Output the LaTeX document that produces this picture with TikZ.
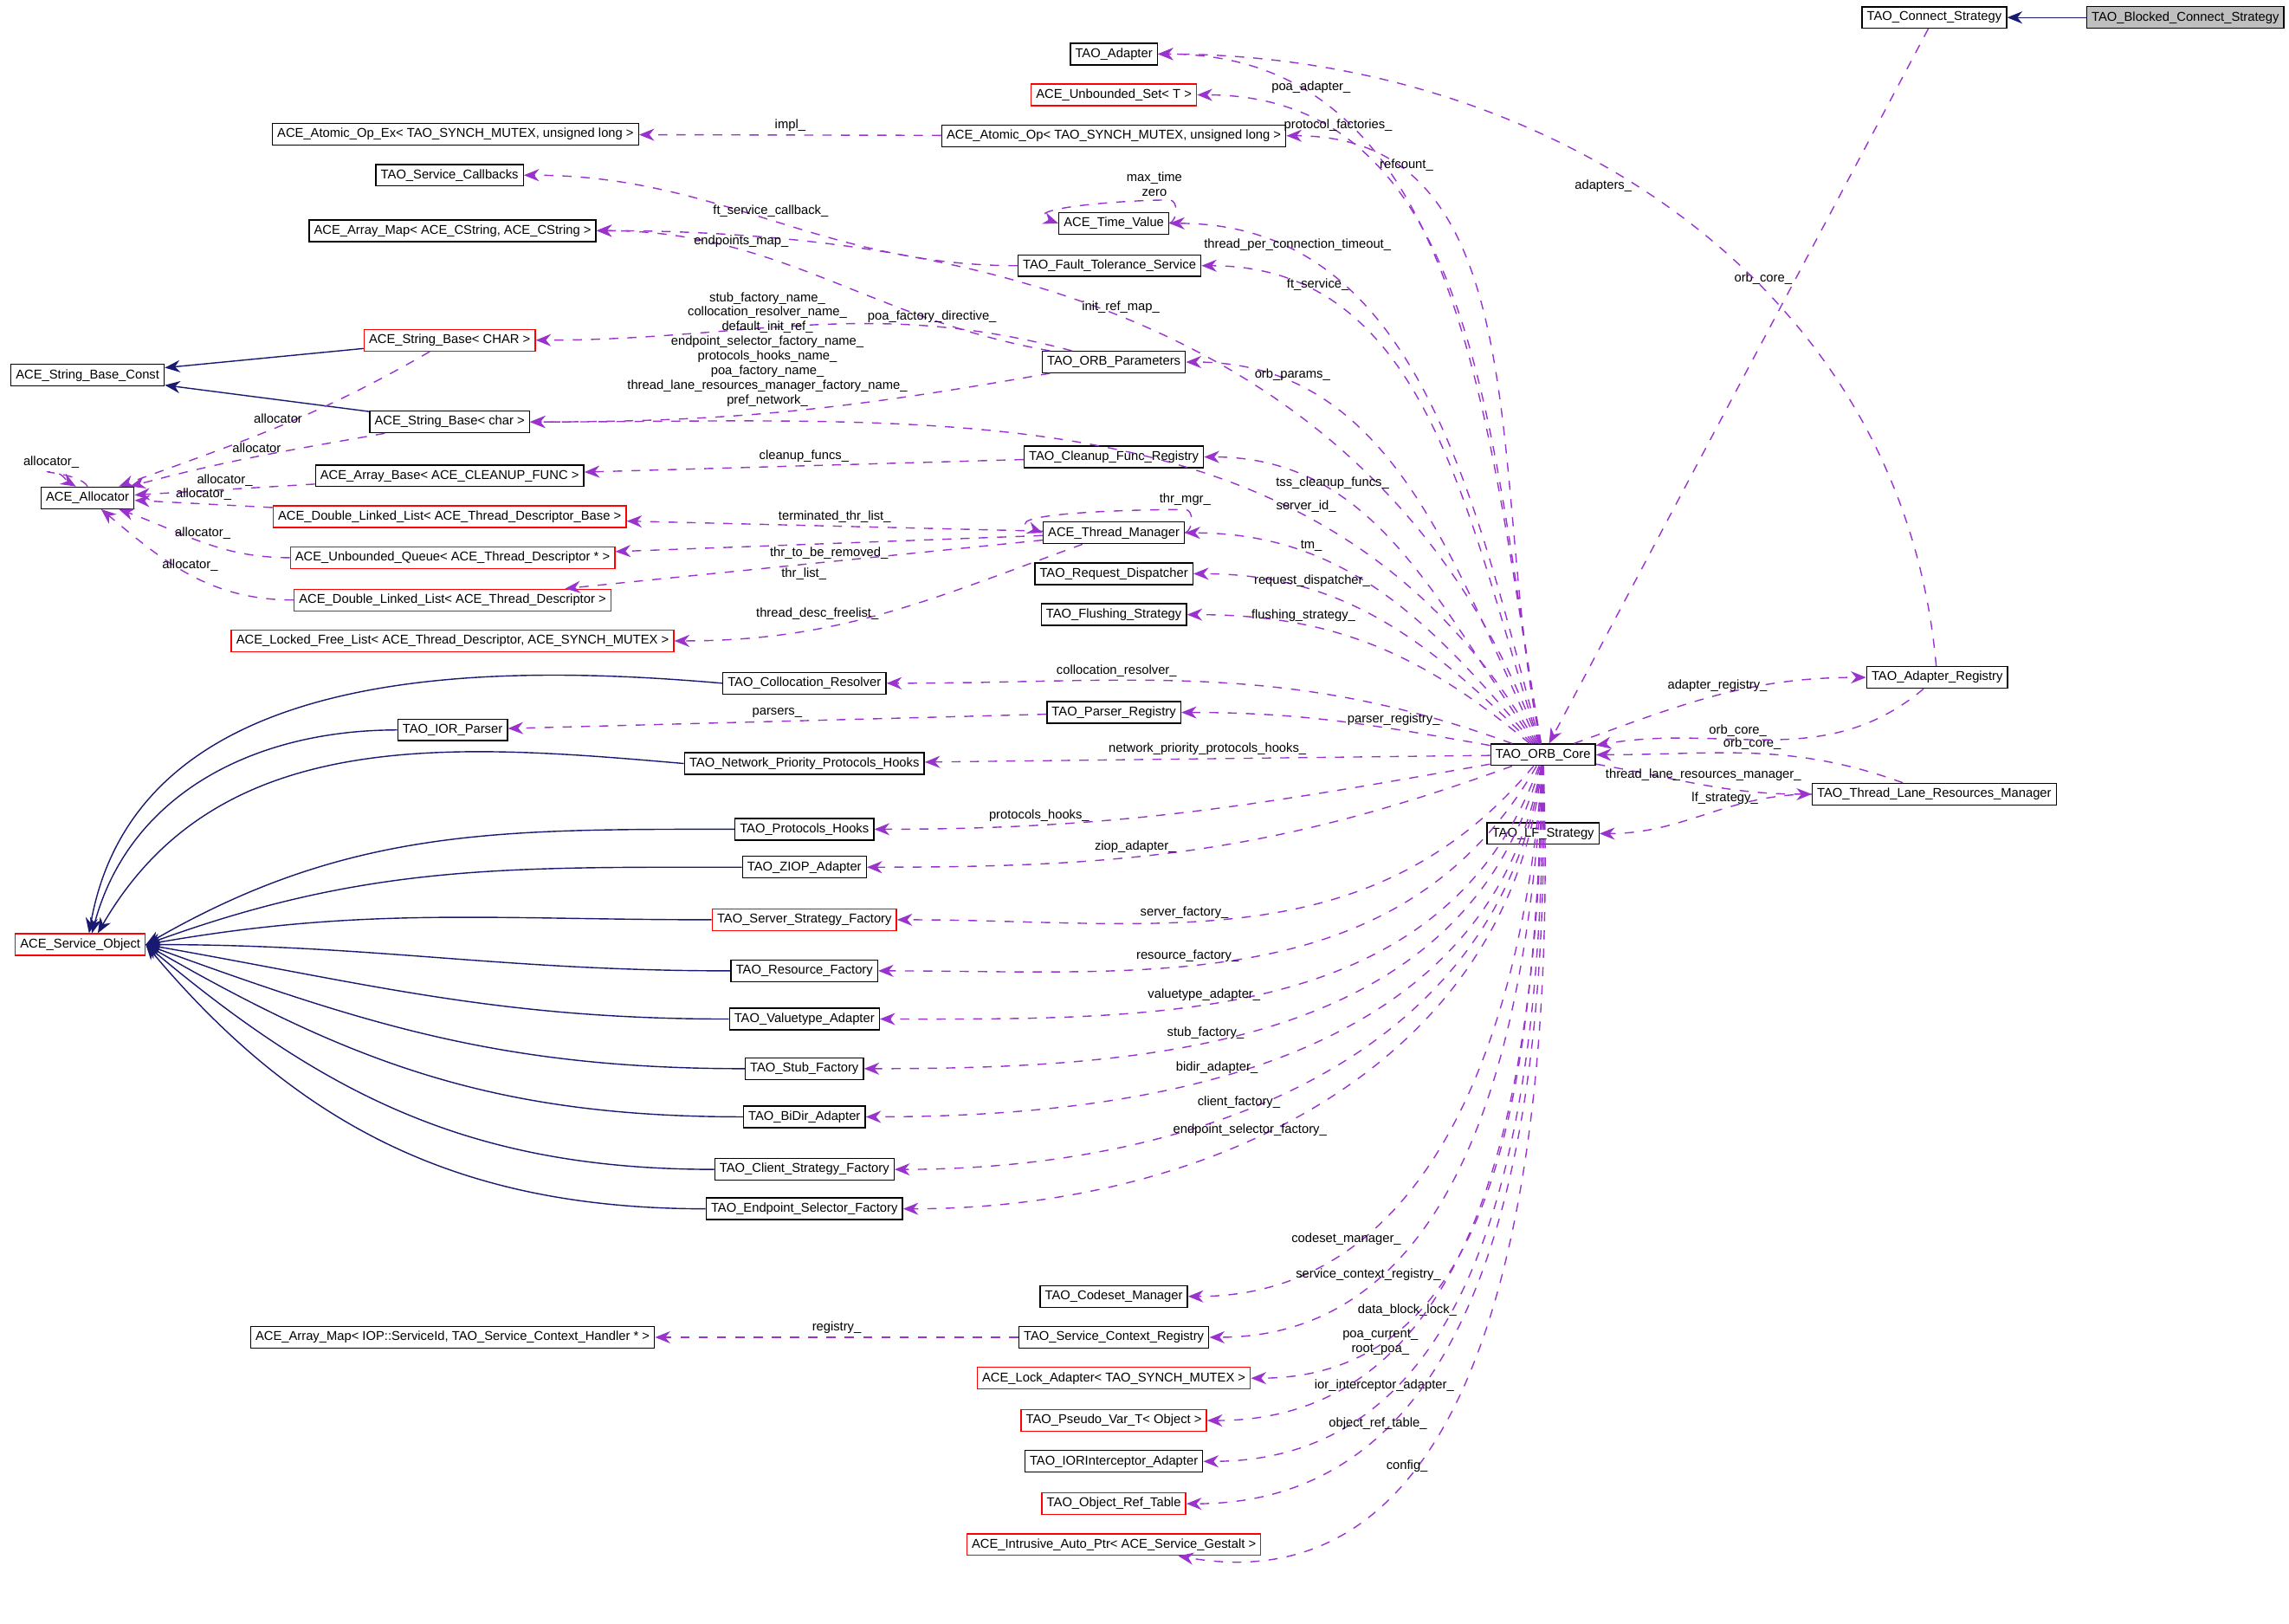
\documentclass[tikz,border=0pt]{standalone}
\usepackage{fontspec}
\setmainfont{Liberation Sans}
\usetikzlibrary{arrows.meta, positioning, calc}
\usepackage{xcolor}
\definecolor{inh}{HTML}{191970}
\definecolor{mem}{HTML}{9A32CD}

\tikzset{
  cls/.style={draw, rectangle, inner sep=1.6pt, minimum height=7pt, font=\fontsize{4.2}{5}\selectfont},
  redcls/.style={cls, draw=red},
  isa/.style={draw=inh, -{Stealth[length=5pt,width=4pt]}},
  uses/.style={draw=mem, dashed, -{Stealth[length=5pt,width=4pt]}},
  lbl/.style={font=\fontsize{4.2}{4.8}\selectfont, inner sep=1pt, align=center}
}

\begin{document}
\begin{tikzpicture}[x=0.01686cm, y=-0.01686cm]
  \useasboundingbox (0,0) rectangle (1568,1112);

  % classes
  \node[cls, fill=black!25] (blocked) at (1497,12) {TAO\_Blocked\_Connect\_Strategy};
  \node[cls] (connect) at (1325,12) {TAO\_Connect\_Strategy};
  \node[cls] (adapter) at (763,37) {TAO\_Adapter};
  \node[redcls] (uset) at (763,65) {ACE\_Unbounded\_Set< T >};
  \node[cls] (atomicex) at (312,92) {ACE\_Atomic\_Op\_Ex< TAO\_SYNCH\_MUTEX, unsigned long >};
  \node[cls] (atomic) at (763,93) {ACE\_Atomic\_Op< TAO\_SYNCH\_MUTEX, unsigned long >};
  \node[cls] (callbacks) at (308,120) {TAO\_Service\_Callbacks};
  \node[cls] (timeval) at (763,153) {ACE\_Time\_Value};
  \node[cls] (amap) at (310,158) {ACE\_Array\_Map< ACE\_CString, ACE\_CString >};
  \node[cls] (ft) at (760,182) {TAO\_Fault\_Tolerance\_Service};
  \node[redcls] (sbCHAR) at (308,233) {ACE\_String\_Base< CHAR >};
  \node[cls] (sbconst) at (60,257) {ACE\_String\_Base\_Const};
  \node[cls] (params) at (763,248) {TAO\_ORB\_Parameters};
  \node[cls] (sbchar) at (308,289) {ACE\_String\_Base< char >};
  \node[cls] (cleanup) at (763,313) {TAO\_Cleanup\_Func\_Registry};
  \node[cls] (alloc) at (60,341) {ACE\_Allocator};
  \node[cls] (abase) at (308,326) {ACE\_Array\_Base< ACE\_CLEANUP\_FUNC >};
  \node[redcls] (dllbase) at (308,354) {ACE\_Double\_Linked\_List< ACE\_Thread\_Descriptor\_Base >};
  \node[cls] (thrmgr) at (763,365) {ACE\_Thread\_Manager};
  \node[redcls] (uqueue) at (310,382) {ACE\_Unbounded\_Queue< ACE\_Thread\_Descriptor * >};
  \node[cls] (reqdisp) at (763,393) {TAO\_Request\_Dispatcher};
  \node[redcls] (dll) at (310,411) {ACE\_Double\_Linked\_List< ACE\_Thread\_Descriptor >};
  \node[cls] (flush) at (763,421) {TAO\_Flushing\_Strategy};
  \node[redcls] (freelist) at (310,439) {ACE\_Locked\_Free\_List< ACE\_Thread\_Descriptor, ACE\_SYNCH\_MUTEX >};
  \node[cls] (colloc) at (551,468) {TAO\_Collocation\_Resolver};
  \node[cls] (parsreg) at (763,488) {TAO\_Parser\_Registry};
  \node[cls] (iorparser) at (310,500) {TAO\_IOR\_Parser};
  \node[cls] (orb) at (1057,517) {TAO\_ORB\_Core};
  \node[cls] (adreg) at (1327,464) {TAO\_Adapter\_Registry};
  \node[cls] (netprio) at (551,523) {TAO\_Network\_Priority\_Protocols\_Hooks};
  \node[cls] (lanes) at (1325,544) {TAO\_Thread\_Lane\_Resources\_Manager};
  \node[cls] (lf) at (1057,571) {TAO\_LF\_Strategy};
  \node[cls] (prothooks) at (551,568) {TAO\_Protocols\_Hooks};
  \node[cls] (ziop) at (551,594) {TAO\_ZIOP\_Adapter};
  \node[redcls] (serverf) at (551,630) {TAO\_Server\_Strategy\_Factory};
  \node[redcls] (svcobj) at (55,647) {ACE\_Service\_Object};
  \node[cls] (resf) at (551,665) {TAO\_Resource\_Factory};
  \node[cls] (valuet) at (551,698) {TAO\_Valuetype\_Adapter};
  \node[cls] (stubf) at (551,732) {TAO\_Stub\_Factory};
  \node[cls] (bidir) at (551,765) {TAO\_BiDir\_Adapter};
  \node[cls] (clientf) at (551,801) {TAO\_Client\_Strategy\_Factory};
  \node[cls] (endpf) at (551,828) {TAO\_Endpoint\_Selector\_Factory};
  \node[cls] (codeset) at (763,888) {TAO\_Codeset\_Manager};
  \node[cls] (amapiop) at (310,916) {ACE\_Array\_Map< IOP::ServiceId, TAO\_Service\_Context\_Handler * >};
  \node[cls] (scr) at (763,916) {TAO\_Service\_Context\_Registry};
  \node[redcls] (lockad) at (763,944) {ACE\_Lock\_Adapter< TAO\_SYNCH\_MUTEX >};
  \node[redcls] (pseudo) at (763,973) {TAO\_Pseudo\_Var\_T< Object >};
  \node[cls] (iorint) at (763,1001) {TAO\_IORInterceptor\_Adapter};
  \node[redcls] (oref) at (763,1030) {TAO\_Object\_Ref\_Table};
  \node[redcls] (gestalt) at (763,1058) {ACE\_Intrusive\_Auto\_Ptr< ACE\_Service\_Gestalt >};

  % inheritance
  \draw[isa] (blocked) -- (connect);
  \draw[isa] (sbCHAR) -- (sbconst);
  \draw[isa] (sbchar) -- (sbconst);
  \draw[isa] (colloc.west) to[out=175, in=80] ($(svcobj.north)+(6,0)$);
  \draw[isa] (iorparser.west) to[out=180, in=75] ($(svcobj.north)+(8,0)$);
  \draw[isa] (netprio.west) to[out=175, in=60] ($(svcobj.north)+(12,0)$);
  \foreach \c/\a in {prothooks/30, ziop/20, serverf/10, resf/0, valuet/-10, stubf/-20, bidir/-30, clientf/-40, endpf/-50}
    \draw[isa] (\c.west) to[out=180, in=\a] (svcobj.east);

  % members of the ORB core
  \draw[uses] (orb) to[out=100, in=0] node[lbl, pos=0.8, above] {poa\_adapter\_} (adapter);
  \draw[uses] (orb) to[out=100, in=0] node[lbl, pos=0.8, above] {protocol\_factories\_} (uset);
  \draw[uses] (orb) to[out=102, in=0] node[lbl, pos=0.8, above] {refcount\_} (atomic);
  \draw[uses] (orb) to[out=105, in=0] node[lbl, pos=0.8, above] {thread\_per\_connection\_timeout\_} (timeval);
  \draw[uses] (orb) to[out=108, in=0] node[lbl, pos=0.8, above] {ft\_service\_} (ft);
  \draw[uses] (orb) to[out=110, in=0] node[lbl, pos=0.55, above] {init\_ref\_map\_} (amap);
  \draw[uses] (orb) to[out=115, in=0] node[lbl, pos=0.8, above] {orb\_params\_} (params);
  \draw[uses] (orb) to[out=120, in=0] node[lbl, pos=0.3, above] {server\_id\_} (sbchar);
  \draw[uses] (orb) to[out=125, in=0] node[lbl, pos=0.7, above] {tss\_cleanup\_funcs\_} (cleanup);
  \draw[uses] (orb) to[out=130, in=0] node[lbl, pos=0.7, above] {tm\_} (thrmgr);
  \draw[uses] (orb) to[out=135, in=0] node[lbl, pos=0.7, above] {request\_dispatcher\_} (reqdisp);
  \draw[uses] (orb) to[out=140, in=0] node[lbl, pos=0.7, above] {flushing\_strategy\_} (flush);
  \draw[uses] (orb) to[out=160, in=0] node[lbl, pos=0.65, above] {collocation\_resolver\_} (colloc);
  \draw[uses] (orb) to[out=170, in=0] node[lbl, pos=0.3, above] {parser\_registry\_} (parsreg);
  \draw[uses] (orb) to[out=20, in=180] node[lbl, pos=0.5, above] {adapter\_registry\_} (adreg);
  \draw[uses] (orb) -- node[lbl, pos=0.5, above] {network\_priority\_protocols\_hooks\_} (netprio);
  \draw[uses] (orb) to[out=190, in=0] node[lbl, pos=0.75, above] {protocols\_hooks\_} (prothooks);
  \draw[uses] (orb) to[out=200, in=0] node[lbl, pos=0.6, above] {ziop\_adapter\_} (ziop);
  \draw[uses] (orb) to[out=230, in=0] node[lbl, pos=0.6, above] {server\_factory\_} (serverf);
  \draw[uses] (orb) to[out=240, in=0] node[lbl, pos=0.6, above] {resource\_factory\_} (resf);
  \draw[uses] (orb) to[out=250, in=0] node[lbl, pos=0.6, above] {valuetype\_adapter\_} (valuet);
  \draw[uses] (orb) to[out=255, in=0] node[lbl, pos=0.6, above] {stub\_factory\_} (stubf);
  \draw[uses] (orb) to[out=260, in=0] node[lbl, pos=0.6, above] {bidir\_adapter\_} (bidir);
  \draw[uses] (orb) to[out=262, in=0] node[lbl, pos=0.6, above] {client\_factory\_} (clientf);
  \draw[uses] (orb) to[out=264, in=0] node[lbl, pos=0.6, above] {endpoint\_selector\_factory\_} (endpf);
  \draw[uses] (orb) to[out=266, in=0] node[lbl, pos=0.75, above] {codeset\_manager\_} (codeset);
  \draw[uses] (orb) to[out=267, in=0] node[lbl, pos=0.75, above] {service\_context\_registry\_} (scr);
  \draw[uses] (orb) to[out=268, in=0] node[lbl, pos=0.75, above] {data\_block\_lock\_} (lockad);
  \draw[uses] (orb) to[out=269, in=0] node[lbl, pos=0.75, above] {poa\_current\_\\root\_poa\_} (pseudo);
  \draw[uses] (orb) to[out=270, in=0] node[lbl, pos=0.75, above] {ior\_interceptor\_adapter\_} (iorint);
  \draw[uses] (orb) to[out=271, in=0] node[lbl, pos=0.75, above] {object\_ref\_table\_} (oref);
  \draw[uses] (orb) to[out=272, in=-10] node[lbl, pos=0.7, above] {config\_} (gestalt);
  \draw[uses] (orb) to[out=-10, in=180] node[lbl, pos=0.5, above] {thread\_lane\_resources\_manager\_} (lanes);

  % back references and others
  \draw[uses] (lanes) to[out=180, in=0] node[lbl, pos=0.4, above] {lf\_strategy\_} (lf);
  \draw[uses] (lanes) to[out=160, in=0] node[lbl, pos=0.5, above] {orb\_core\_} (orb);
  \draw[uses] (adreg) to[out=220, in=10] node[lbl, pos=0.6, above] {orb\_core\_} (orb);
  \draw[uses] (connect) -- node[lbl, pos=0.35, left] {orb\_core\_} (orb);
  \draw[uses] (adreg) to[out=95, in=0] node[lbl, pos=0.55, left] {adapters\_} (adapter);
  \draw[uses] (atomic) -- node[lbl, above] {impl\_} (atomicex);
  \draw[uses] (timeval.east) to[out=20, in=0] ++(0,-16) to[out=180, in=160] node[lbl, pos=0.1, above] {max\_time\\zero} (timeval.west);
  \draw[uses] (ft) to[out=180, in=0] node[lbl, pos=0.5, above] {ft\_service\_callback\_} (callbacks);
  \draw[uses] (params) to[out=170, in=0] node[lbl, pos=0.7, above] {endpoints\_map\_} (amap);
  \draw[uses] (params) to[out=165, in=0] node[lbl, pos=0.25, above] {poa\_factory\_directive\_} (sbCHAR);
  \draw[uses] (params) to[out=190, in=0] node[lbl, pos=0.55, above=1pt] {stub\_factory\_name\_\\collocation\_resolver\_name\_\\default\_init\_ref\_\\endpoint\_selector\_factory\_name\_\\protocols\_hooks\_name\_\\poa\_factory\_name\_\\thread\_lane\_resources\_manager\_factory\_name\_\\pref\_network\_} (sbchar);
  \draw[uses] (alloc.north) to[out=120, in=180] ++(-25,-10) node[lbl, above] {allocator\_} to[out=0, in=150] ($(alloc.north)+(-8,0)$);
  \draw[uses] (sbCHAR) to[out=210, in=20] node[lbl, pos=0.5, above] {allocator} (alloc);
  \draw[uses] (sbchar) to[out=190, in=15] node[lbl, pos=0.5, above] {allocator} (alloc);
  \draw[uses] (abase) -- node[lbl, pos=0.5, above] {allocator\_} (alloc);
  \draw[uses] (dllbase) -- node[lbl, pos=0.5, above] {allocator\_} (alloc);
  \draw[uses] (uqueue) to[out=180, in=-20] node[lbl, pos=0.5, above] {allocator\_} (alloc);
  \draw[uses] (dll) to[out=180, in=-40] node[lbl, pos=0.5, above] {allocator\_} (alloc);
  \draw[uses] (cleanup) -- node[lbl, pos=0.5, above] {cleanup\_funcs\_} (abase);
  \draw[uses] (thrmgr) -- node[lbl, pos=0.5, above] {terminated\_thr\_list\_} (dllbase);
  \draw[uses] (thrmgr) -- node[lbl, pos=0.5, below] {thr\_to\_be\_removed\_} (uqueue);
  \draw[uses] (thrmgr) -- node[lbl, pos=0.5, below] {thr\_list\_} (dll);
  \draw[uses] (thrmgr) to[out=200, in=0] node[lbl, pos=0.5, left] {thread\_desc\_freelist\_} (freelist);
  \draw[uses] (thrmgr.east) to[out=20, in=0] ++(0,-16) node[lbl, above] {thr\_mgr\_} to[out=180, in=160] (thrmgr.west);
  \draw[uses] (parsreg) -- node[lbl, pos=0.5, above] {parsers\_} (iorparser);
  \draw[uses] (scr) -- node[lbl, pos=0.5, above] {registry\_} (amapiop);
\end{tikzpicture}
\end{document}
